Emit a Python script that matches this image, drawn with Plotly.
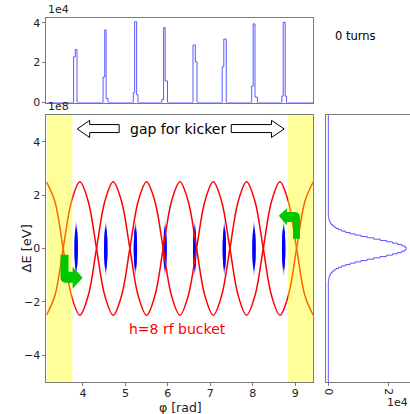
import plotly.graph_objects as go

# ---------------- data ----------------
# top: longitudinal line density (bin edge phase [rad], counts [1e4]) drawn as steps
prof_phi = [3.1416,
            3.780, 3.820, 3.860,
            4.474, 4.514, 4.545, 4.592,
            5.185, 5.218, 5.265, 5.296,
            5.858, 5.900, 5.936, 5.991,
            6.592, 6.647, 6.687,
            7.280, 7.318, 7.375,
            7.974, 8.009, 8.052, 8.109,
            8.685, 8.716, 8.763, 8.796,
            9.4248]
prof_val = [0,
            2.29, 2.66, 0,
            1.28, 3.64, 0.20, 0,
            0.49, 4.05, 0.39, 0,
            0.15, 3.75, 1.08, 0,
            2.88, 2.04, 0,
            1.79, 3.18, 0,
            0.82, 3.94, 0.27, 0,
            0.32, 4.02, 0.32, 0,
            0]

# right: energy profile (bin start dE [1e8 eV], counts [1e4])
ep_dE = [-5.0, -1.25, -1.20, -1.15, -1.10, -1.05, -1.00, -0.95, -0.90, -0.85, -0.80, -0.75,
         -0.70, -0.65, -0.60, -0.55, -0.50, -0.45, -0.40, -0.35, -0.30, -0.25, -0.20, -0.15,
         -0.10, -0.05, 0.00, 0.05, 0.10, 0.15, 0.20, 0.25, 0.30, 0.35, 0.40, 0.45, 0.50,
         0.55, 0.60, 0.65, 0.70, 0.75, 0.80, 0.85, 0.90, 0.95, 1.00, 1.05, 1.10, 1.15, 1.20,
         1.25, 5.0]
ep_cnt = [0.0, 0.008, 0.013, 0.020, 0.030, 0.045, 0.067, 0.096, 0.136, 0.188, 0.256, 0.342,
          0.448, 0.576, 0.726, 0.897, 1.089, 1.296, 1.511, 1.730, 1.942, 2.139, 2.310, 2.448,
          2.544, 2.594, 2.594, 2.544, 2.448, 2.310, 2.139, 1.942, 1.730, 1.511, 1.296, 1.089,
          0.897, 0.726, 0.576, 0.448, 0.342, 0.256, 0.188, 0.136, 0.096, 0.067, 0.045, 0.030,
          0.020, 0.013, 0.008, 0.0, 0.0]

# h=8 separatrix sample points (phase [rad], dE [1e8 eV])
sep_phi = [3.1416, 3.3379, 3.5343, 3.7306, 3.9270, 4.1233, 4.3197, 4.5160, 4.7124,
           4.9087, 5.1051, 5.3014, 5.4978, 5.6941, 5.8905, 6.0868, 6.2832,
           6.4795, 6.6759, 6.8722, 7.0686, 7.2649, 7.4613, 7.6576, 7.8540,
           8.0503, 8.2467, 8.4430, 8.6394, 8.8357, 9.0321, 9.2284, 9.4248]
sep_upper = [2.5, 1.77, 0, -1.77, -2.5, -1.77, 0, 1.77] * 4 + [2.5]
sep_lower = [-v for v in sep_upper]

# bunches (centre phase [rad], half width [rad], half height [1e8 eV])
bunch_phi = [3.840, 4.538, 5.236, 5.934, 6.632, 7.330, 8.029, 8.727]
bunch_hw = [0.040] * 8
bunch_hh = [1.05] * 8

# kicker gap regions [rad]
gap_left = [3.1416, 3.75]
gap_right = [8.83, 9.4248]

# ---------------- figure ----------------
FONT = "DejaVu Sans"
LINE = "#7a7a7a"
BLUE = "rgba(60,60,255,0.85)"

fig = go.Figure()

fig.add_trace(go.Scatter(x=prof_phi, y=prof_val, mode="lines", line=dict(color=BLUE, width=1, shape="hv"),
                         xaxis="x2", yaxis="y2", showlegend=False, hoverinfo="skip"))
fig.add_trace(go.Scatter(x=ep_cnt, y=ep_dE, mode="lines", line=dict(color=BLUE, width=1, shape="vh"),
                         xaxis="x3", yaxis="y3", showlegend=False, hoverinfo="skip"))
for ys in (sep_upper, sep_lower):
    fig.add_trace(go.Scatter(x=sep_phi, y=ys, mode="lines",
                             line=dict(color="red", width=1.5, shape="spline", smoothing=1.0),
                             xaxis="x", yaxis="y", showlegend=False, hoverinfo="skip"))

shapes = []
# bunches: nested ellipses for a faded density look
layers = [(1.00, 0.75, "rgba(0,0,255,0.15)"), (0.90, 0.9, "rgba(0,0,255,0.3)"),
          (0.80, 1.0, "rgba(0,0,255,0.6)"), (0.70, 1.0, "rgba(0,0,255,1)")]
for p, hw, hh in zip(bunch_phi, bunch_hw, bunch_hh):
    for fh, fw, col in layers:
        shapes.append(dict(type="circle", xref="x", yref="y", layer="below",
                           x0=p - hw * fw, x1=p + hw * fw, y0=-hh * fh, y1=hh * fh,
                           fillcolor=col, line=dict(width=0)))
# kicker gap shading (above the curves, semi transparent)
for g in (gap_left, gap_right):
    shapes.append(dict(type="rect", xref="x", yref="y", layer="above", x0=g[0], x1=g[1], y0=-5, y1=5,
                       fillcolor="rgba(255,255,0,0.4)", line=dict(width=0)))
# green bent arrows
shapes.append(dict(type="path", xref="x", yref="y", layer="above",
                   path="M 3.472 -0.235 L 3.661 -0.235 L 3.661 -0.869 L 3.756 -0.869 L 3.756 -0.683 "
                        "L 3.993 -1.093 L 3.756 -1.504 L 3.756 -1.28 L 3.590 -1.28 Q 3.472 -1.28 3.472 -1.10 Z",
                   fillcolor="rgb(0,200,0)", line=dict(width=0)))
shapes.append(dict(type="path", xref="x", yref="y", layer="above",
                   path="M 8.946 0.362 L 9.112 0.362 L 9.112 1.146 Q 9.112 1.369 8.970 1.369 L 8.804 1.369 "
                        "L 8.804 1.507 L 8.614 1.231 L 8.804 0.858 L 8.804 0.996 L 8.946 0.996 Z",
                   fillcolor="rgb(0,200,0)", line=dict(width=0)))
# hollow block arrows for "gap for kicker"
shapes.append(dict(type="path", xref="x", yref="y", layer="above",
                   path="M 3.867 4.478 L 4.159 4.802 L 4.159 4.642 L 4.853 4.642 L 4.853 4.343 "
                        "L 4.159 4.343 L 4.159 4.157 Z",
                   fillcolor="white", line=dict(color="black", width=1)))
shapes.append(dict(type="path", xref="x", yref="y", layer="above",
                   path="M 8.739 4.478 L 8.441 4.802 L 8.441 4.642 L 7.493 4.642 L 7.493 4.343 "
                        "L 8.441 4.343 L 8.441 4.157 Z",
                   fillcolor="white", line=dict(color="black", width=1)))

tickfont = dict(family=FONT, size=11, color="#222")
common = dict(showline=True, linecolor=LINE, linewidth=1, showgrid=False, zeroline=False,
              ticks="outside", ticklen=3, tickcolor=LINE, tickfont=tickfont, automargin=False)
plain = dict(showline=True, linecolor=LINE, linewidth=1, showgrid=False, zeroline=False,
             showticklabels=False, ticks="", automargin=False)

fig.update_layout(
    width=410, height=414, margin=dict(l=0, r=0, t=0, b=0),
    paper_bgcolor="white", plot_bgcolor="white",
    shapes=shapes,
    xaxis=dict(domain=[0.1134, 0.7641], range=[3.1416, 9.4248], anchor="y", mirror=True,
               tickvals=[4, 5, 6, 7, 8, 9], ticklabelstandoff=-2, **common),
    yaxis=dict(domain=[0.0773, 0.7222], range=[-5, 5], anchor="x", mirror=True,
               tickvals=[-4, -2, 0, 2, 4], ticktext=["\u22124", "\u22122", "0", "2", "4"], **common),
    xaxis2=dict(domain=[0.1134, 0.7641], range=[3.1416, 9.4248], anchor="y2", mirror=True, **plain),
    yaxis2=dict(domain=[0.7524, 0.9577], range=[0, 4.26], anchor="x2", mirror=True,
                tickvals=[0, 2, 4], **common),
    xaxis3=dict(domain=[0.7951, 1.0], range=[-0.077, 2.723], anchor="y3", mirror=True,
                tickvals=[0, 2], tickangle=90, **common),
    yaxis3=dict(domain=[0.0773, 0.7222], range=[-5, 5], anchor="x3", **plain),
)

ann = [
    dict(x=6.232, y=4.478, xref="x", yref="y", text="gap for kicker", showarrow=False,
         font=dict(family=FONT, size=14, color="black")),
    dict(x=6.22, y=-3.0, xref="x", yref="y", text="h=8 rf bucket", showarrow=False,
         font=dict(family=FONT, size=14, color="red")),
    dict(x=0.923, y=0.935, xref="paper", yref="paper", text="0 turns", showarrow=False,
         font=dict(family=FONT, size=11.5, color="black")),
    dict(x=0.112, y=0.9577, xref="paper", yref="paper", text="1e4", showarrow=False,
         xanchor="left", yanchor="bottom", font=tickfont),
    dict(x=0.112, y=0.7222, xref="paper", yref="paper", text="1e8", showarrow=False,
         xanchor="left", yanchor="bottom", font=tickfont),
    dict(x=1.0, y=0.0, xref="paper", yref="paper", text="1e4", showarrow=False,
         xanchor="right", yanchor="bottom", yshift=3, font=tickfont),
    dict(x=180 / 410, y=0.0, xref="paper", yref="paper", text="\u03c6 [rad]", showarrow=False,
         yanchor="bottom", yshift=-3, font=dict(family=FONT, size=12.5, color="#222")),
    dict(x=16 / 410, y=(414 - 249) / 414, xref="paper", yref="paper", text="\u0394E [eV]", showarrow=False,
         textangle=-90, font=dict(family=FONT, size=13, color="#222")),
]
fig.update_layout(annotations=ann)

fig.write_html("out.html")
